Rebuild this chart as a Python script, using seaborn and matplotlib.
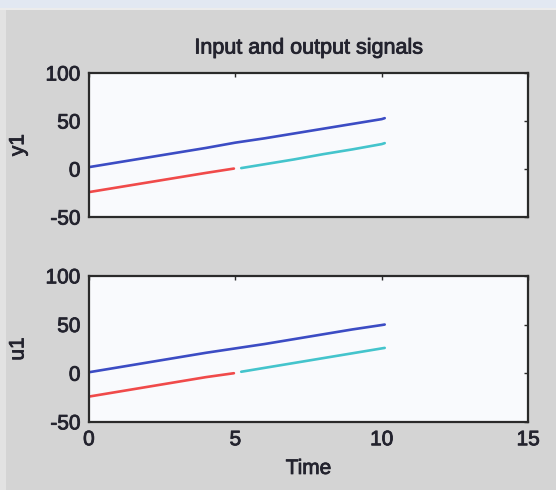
import matplotlib
matplotlib.use("Agg")
import matplotlib.pyplot as plt
import matplotlib.patheffects as pe
from matplotlib.patches import Rectangle
import seaborn as sns
import pandas as pd

# ---- data ----
t_blue = [0, 1, 2, 3, 4, 5, 6, 7, 8, 9, 10, 10.1]
y1_blue = [2, 7, 12, 17, 22, 27.5, 32, 37, 42, 47, 52, 53]
u1_blue = [1, 6, 11, 16, 21, 25.5, 30, 35, 40, 45, 49.5, 50]

t_red = [0, 1, 2, 3, 4, 4.95]
y1_red = [-24, -19, -14, -9, -4, 0.5]
u1_red = [-24, -19, -14, -9, -4, 0]

t_cyan = [5.2, 6, 7, 8, 9, 10, 10.1]
y1_cyan = [1, 5, 10, 15.5, 20.5, 26, 27]
u1_cyan = [1.5, 5.5, 10.5, 15.5, 20.5, 25.5, 26]

x_ticks = [0, 5, 10, 15]
y_ticks = [-50, 0, 50, 100]
title = "Input and output signals"
xlabel = "Time"
ylabels = ["y1", "u1"]

BLUE = "#3c4cc4"
RED = "#f04a4a"
CYAN = "#44c4cc"
BG = "#d4d4d4"
AXBG = "#f9fafd"
TXT = "#23232e"

sns.set_style("white")
plt.rcParams["font.family"] = ["Liberation Sans", "DejaVu Sans"]
plt.rcParams["axes.unicode_minus"] = False

thick = [pe.withStroke(linewidth=0.6, foreground=TXT)]

fig = plt.figure(figsize=(5.56, 4.9), dpi=100, facecolor=BG)
# window-like decorations
fig.patches.append(Rectangle((0, 1 - 8 / 490), 1, 8 / 490, transform=fig.transFigure,
                             facecolor="#e2e8f2", edgecolor="none", zorder=0))
fig.patches.append(Rectangle((0, 1 - 10 / 490), 1, 2 / 490, transform=fig.transFigure,
                             facecolor="#ececec", edgecolor="none", zorder=0))
fig.patches.append(Rectangle((0, 0), 6 / 556, 1 - 10 / 490, transform=fig.transFigure,
                             facecolor="#e2e2e2", edgecolor="none", zorder=0))

ax1 = fig.add_axes([0.160, 0.557, 0.790, 0.294])
ax2 = fig.add_axes([0.160, 0.139, 0.790, 0.298])

series = [
    (ax1, y1_blue, y1_red, y1_cyan),
    (ax2, u1_blue, u1_red, u1_cyan),
]

for (ax, yb, yr, yc), lab in zip(series, ylabels):
    ax.set_facecolor(AXBG)
    dfb = pd.DataFrame({"t": t_blue, "v": yb})
    dfr = pd.DataFrame({"t": t_red, "v": yr})
    dfc = pd.DataFrame({"t": t_cyan, "v": yc})
    sns.lineplot(data=dfb, x="t", y="v", color=BLUE, lw=1.9, ax=ax)
    sns.lineplot(data=dfr, x="t", y="v", color=RED, lw=1.9, ax=ax)
    sns.lineplot(data=dfc, x="t", y="v", color=CYAN, lw=1.9, ax=ax)
    ax.set_xlim(0, 15)
    ax.set_ylim(-50, 100)
    ax.set_xticks(x_ticks)
    ax.set_yticks(y_ticks)
    for s in ax.spines.values():
        s.set_visible(True)
        s.set_color("#2a2a2a")
        s.set_linewidth(1.6)
    ax.tick_params(direction="in", length=3, width=1, color="#2a2a2a",
                   top=True, right=True, labelsize=15, labelcolor=TXT)
    ax.tick_params(axis="y", pad=6)
    ax.tick_params(axis="x", pad=6)
    ax.set_ylabel(lab, fontsize=15, color=TXT, labelpad=13, path_effects=thick)
    ax.set_xlabel("")
    for tl in ax.get_xticklabels() + ax.get_yticklabels():
        tl.set_path_effects(thick)

ax1.tick_params(labelbottom=False)
ax1.set_title(title, fontsize=15.5, color=TXT, pad=14, path_effects=thick)
ax2.set_xlabel(xlabel, fontsize=15, color=TXT, labelpad=7, path_effects=thick)

fig.savefig("out.png", dpi=100, facecolor=BG)
